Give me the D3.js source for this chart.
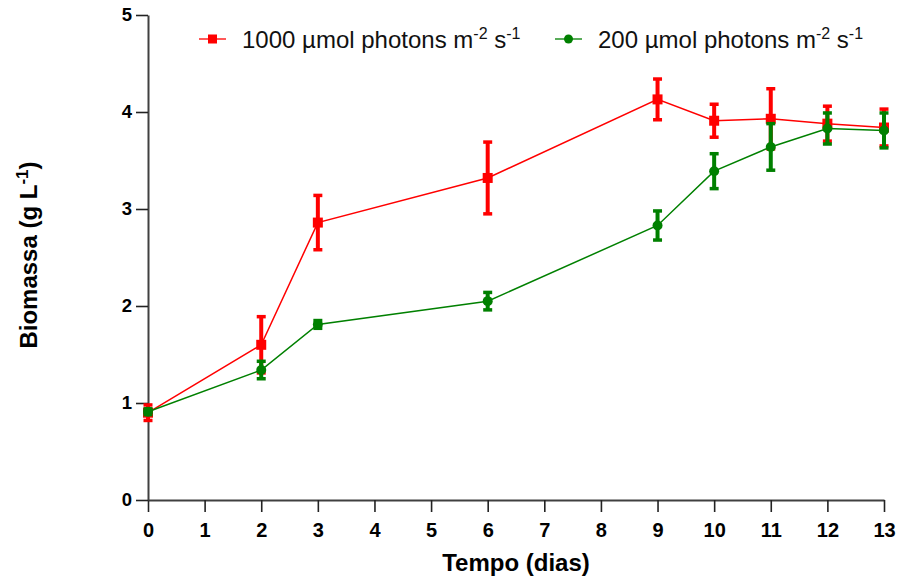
<!DOCTYPE html>
<html>
<head>
<meta charset="utf-8">
<script src="https://cdn.jsdelivr.net/npm/d3@7"></script>
<style>
  body { margin: 0; background: #fff; }
  svg { font-family: "Liberation Sans", Arial, sans-serif; }
</style>
</head>
<body>
<svg id="chart" width="899" height="576"></svg>
<script>
var days = [0, 2, 3, 6, 9, 10, 11, 12, 13];
var highMean = [0.90, 1.60, 2.86, 3.32, 4.13, 3.91, 3.93, 3.88, 3.84];
var highSd   = [0.08, 0.29, 0.28, 0.37, 0.21, 0.17, 0.31, 0.18, 0.19];
var lowMean  = [0.91, 1.34, 1.81, 2.05, 2.83, 3.39, 3.64, 3.83, 3.81];
var lowSd    = [0.03, 0.09, 0.04, 0.09, 0.15, 0.18, 0.24, 0.16, 0.18];
var xTicks = d3.range(0, 14);
var yTicks = [0, 1, 2, 3, 4, 5];

var svg = d3.select('#chart'),
    x = d3.scaleLinear().domain([0, 13]).range([148, 884]),
    y = d3.scaleLinear().domain([0, 5]).range([500, 15]);

function series(mean, sd) {
  return days.map(function(d, i) { return { x: d, y: mean[i], sd: sd[i] }; });
}

var groups = [
  { name: '1000', data: series(highMean, highSd), color: '#ff0000', shape: 'square' },
  { name: '200', data: series(lowMean, lowSd), color: '#008000', shape: 'circle' }
];

// axes
var gx = svg.append('g').attr('transform', 'translate(0,500)')
  .call(d3.axisBottom(x).tickValues(xTicks).tickFormat(d3.format('d'))
    .tickSize(12).tickPadding(11).tickSizeOuter(0));
var gy = svg.append('g').attr('transform', 'translate(148,0)')
  .call(d3.axisLeft(y).tickValues(yTicks).tickFormat(d3.format('d'))
    .tickSize(12).tickPadding(4).tickSizeOuter(0));

[gx, gy].forEach(function(g) {
  g.select('.domain').attr('stroke', '#404040').attr('stroke-width', 2);
  g.selectAll('.tick line').attr('stroke', '#222').attr('stroke-width', 1.6);
  g.selectAll('.tick text').attr('fill', '#000').style('font-weight', 'bold');
});
gx.selectAll('.tick text').style('font-size', '20px');
gy.selectAll('.tick text').style('font-size', '18.5px');

var line = d3.line().x(function(d) { return x(d.x); }).y(function(d) { return y(d.y); });

groups.forEach(function(gr) {
  var g = svg.append('g');
  g.append('path').datum(gr.data).attr('d', line)
    .attr('fill', 'none').attr('stroke', gr.color).attr('stroke-width', 1.5);

  var eb = g.selectAll('.eb').data(gr.data).enter().append('g');
  eb.append('line')
    .attr('x1', function(d) { return x(d.x); }).attr('x2', function(d) { return x(d.x); })
    .attr('y1', function(d) { return y(d.y - d.sd); }).attr('y2', function(d) { return y(d.y + d.sd); })
    .attr('stroke', gr.color).attr('stroke-width', 4);
  [-1, 1].forEach(function(s) {
    eb.append('line')
      .attr('x1', function(d) { return x(d.x) - 4.5; }).attr('x2', function(d) { return x(d.x) + 4.5; })
      .attr('y1', function(d) { return y(d.y + s * d.sd); }).attr('y2', function(d) { return y(d.y + s * d.sd); })
      .attr('stroke', gr.color).attr('stroke-width', 3.5);
  });

  if (gr.shape === 'square') {
    g.selectAll('.m').data(gr.data).enter().append('rect')
      .attr('x', function(d) { return x(d.x) - 5; }).attr('y', function(d) { return y(d.y) - 5; })
      .attr('width', 10).attr('height', 10).attr('fill', gr.color);
  } else {
    g.selectAll('.m').data(gr.data).enter().append('circle')
      .attr('cx', function(d) { return x(d.x); }).attr('cy', function(d) { return y(d.y); })
      .attr('r', 5).attr('fill', gr.color);
  }
});

// legend
var legendX = [199, 555];
groups.forEach(function(gr, i) {
  var lg = svg.append('g').attr('transform', 'translate(' + legendX[i] + ',39)');
  lg.append('line').attr('x1', 0).attr('x2', 27).attr('y1', 0).attr('y2', 0)
    .attr('stroke', gr.color).attr('stroke-opacity', 0.65).attr('stroke-width', 2);
  if (gr.shape === 'square') {
    lg.append('rect').attr('x', 9).attr('y', -4.5).attr('width', 9).attr('height', 9).attr('fill', gr.color);
  } else {
    lg.append('circle').attr('cx', 13.5).attr('cy', 0).attr('r', 4.5).attr('fill', gr.color);
  }
  var t = lg.append('text').attr('x', 43).attr('y', 9).style('font-size', '24px').attr('fill', '#111');
  t.append('tspan').text(gr.name + ' µmol photons m');
  t.append('tspan').attr('dy', -9).style('font-size', '16px').text('-2');
  t.append('tspan').attr('dy', 9).text(' s');
  t.append('tspan').attr('dy', -9).style('font-size', '16px').text('-1');
});

// axis titles
svg.append('text').attr('x', 516).attr('y', 571).attr('text-anchor', 'middle')
  .style('font-size', '24px').style('font-weight', 'bold').text('Tempo (dias)');

var yt = svg.append('text').attr('transform', 'translate(37,255) rotate(-90)')
  .attr('text-anchor', 'middle').style('font-size', '24px').style('font-weight', 'bold');
yt.append('tspan').text('Biomassa (g L');
yt.append('tspan').attr('dy', -9).style('font-size', '17px').text('-1');
yt.append('tspan').attr('dy', 9).text(')');
</script>
</body>
</html>
